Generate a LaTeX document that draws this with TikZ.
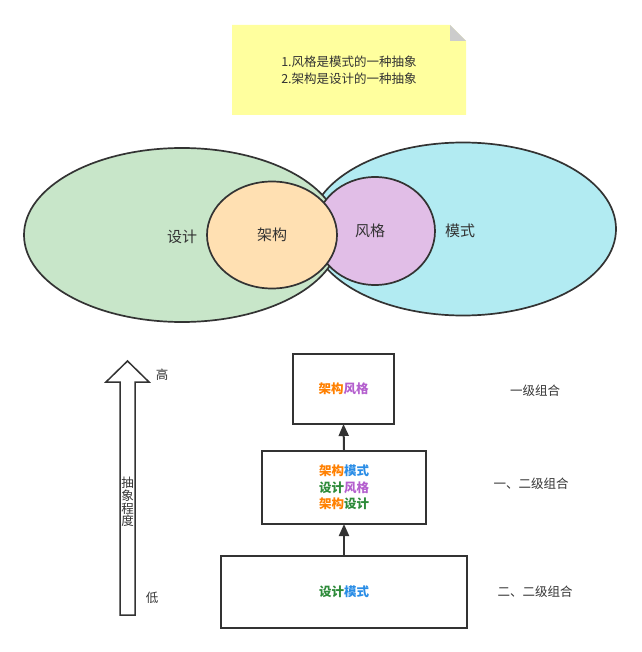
\documentclass[tikz,border=0pt]{standalone}
\usepackage{fontspec}
\setmainfont{Noto Sans CJK SC}
\usetikzlibrary{shapes.geometric,arrows.meta}
\definecolor{ln}{HTML}{333333}
\definecolor{notefill}{HTML}{FFFF9E}
\definecolor{foldgray}{HTML}{CCCCCC}
\definecolor{greenE}{HTML}{C8E6C9}
\definecolor{blueE}{HTML}{B2EBF2}
\definecolor{orangeE}{HTML}{FFE0B2}
\definecolor{purpleE}{HTML}{E1BEE7}
\definecolor{cOr}{HTML}{FF8000}
\definecolor{cPu}{HTML}{B45FCE}
\definecolor{cBl}{HTML}{2A8DE6}
\definecolor{cGr}{HTML}{2E8B3A}
\begin{document}
\begin{tikzpicture}[x=1pt,y=-1pt,
  every node/.style={inner sep=0pt, text=ln},
  venn/.style={ellipse, draw=ln, line width=1.7pt, inner sep=0pt},
  bigtxt/.style={font=\fontsize{15}{18}\selectfont},
  txt/.style={font=\fontsize{12.5}{15}\selectfont},
  levelbox/.style={draw=ln, line width=2pt, fill=white, font=\bfseries\fontsize{12.5}{16.5}\selectfont, align=center},
  conn/.style={draw=ln, line width=2pt, -{Triangle[length=12pt,width=10pt]}, shorten >=-1pt}]
\useasboundingbox (0,0) rectangle (641,652);
% note
\fill[notefill] (232,25) -- (450,25) -- (466,41) -- (466,115) -- (232,115) -- cycle;
\fill[foldgray] (450,25) -- (466,41) -- (450,41) -- cycle;
\node[font=\fontsize{12.5}{17}\selectfont, align=center] (note) at (349,70) {1.风格是模式的一种抽象\\2.架构是设计的一种抽象};
% venn
\node[venn, fill=blueE, minimum width=306pt, minimum height=173pt] (mode) at (463,229) {};
\node[venn, fill=greenE, minimum width=316pt, minimum height=174pt] (design) at (182,235) {};
\node[venn, fill=purpleE, minimum width=120pt, minimum height=108pt] (style) at (375,231) {};
\node[venn, fill=orangeE, minimum width=130pt, minimum height=107pt, bigtxt] (arch) at (272,235) {架构};
\node[bigtxt] (designlbl) at (182,237) {设计};
\node[bigtxt] (stylelbl) at (370,231) {风格};
\node[bigtxt] (modelbl) at (460,231) {模式};
% big arrow
\draw[ln, line width=1.5pt, fill=white, line join=miter]
  (120,615) -- (120,382) -- (106,382) -- (127.5,361) -- (149,382) -- (135,382) -- (135,615) -- cycle;
\node[font=\fontsize{12.5}{12.8}\selectfont, align=center] (abs) at (127.5,502) {抽\\象\\程\\度};
\node[txt] (high) at (162,375) {高};
\node[txt] (low) at (152,598) {低};
% level boxes
\node[levelbox, minimum width=101pt, minimum height=70pt] (b1) at (343.5,389) {\textcolor{cOr}{架构}\textcolor{cPu}{风格}};
\node[levelbox, minimum width=164pt, minimum height=73pt] (b2) at (344,487.5) {\textcolor{cOr}{架构}\textcolor{cBl}{模式}\\\textcolor{cGr}{设计}\textcolor{cPu}{风格}\\\textcolor{cOr}{架构}\textcolor{cGr}{设计}};
\node[levelbox, minimum width=246pt, minimum height=72pt] (b3) at (344,592) {\textcolor{cGr}{设计}\textcolor{cBl}{模式}};
\draw[conn] (b2.north) -- (b1.south);
\draw[conn] (b3.north) -- (b2.south);
\node[txt] (l1) at (535,391) {一级组合};
\node[txt] (l2) at (531,484) {一、二级组合};
\node[txt] (l3) at (535,592) {二、二级组合};
\end{tikzpicture}
\end{document}
